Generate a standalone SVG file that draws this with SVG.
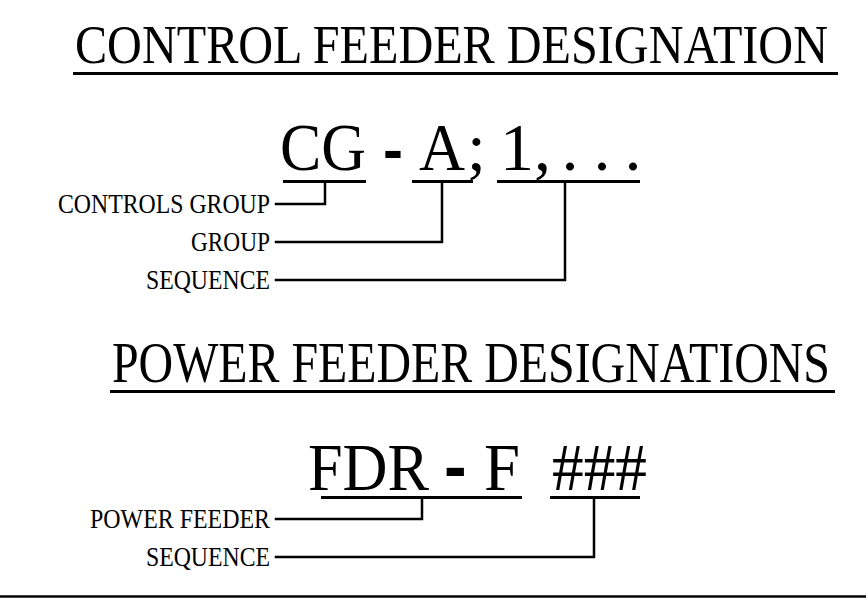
<svg xmlns="http://www.w3.org/2000/svg" width="866" height="598" viewBox="0 0 866 598">
<style>
.t{font-family:"Liberation Serif","Times New Roman",serif;fill:#000}
.title{font-size:54px}
.title2{font-size:56px}
.code{font-size:68px}
.lbl{font-size:27px;text-anchor:end}
.dash{font-family:"Liberation Sans",Arial,sans-serif;font-weight:bold;fill:#000}
.ul{stroke:#000;stroke-width:3;fill:none}
.ld{stroke:#000;stroke-width:2.5;fill:none;stroke-linecap:square}
</style>
<rect width="866" height="598" fill="#fff"/>
<g id="title-control">
<text class="t title" transform="scale(0.87,1)" x="86.2" y="63" textLength="865.5" lengthAdjust="spacingAndGlyphs">CONTROL FEEDER DESIGNATION</text>
<line class="ul" x1="73" y1="73.5" x2="838" y2="73.5"/>
</g>
<g id="code-control">
<text class="t code" x="280" y="170" textLength="86" lengthAdjust="spacingAndGlyphs">CG</text>
<text class="dash" x="383" y="170" font-size="60">-</text>
<text class="t code" x="419" y="170" textLength="46" lengthAdjust="spacingAndGlyphs">A</text>
<text class="t code" x="467" y="170">;</text>
<text class="t code" x="500" y="170">1,</text>
<text class="t code" x="561.5" y="170">.</text>
<text class="t code" x="593.5" y="170">.</text>
<text class="t code" x="624.5" y="170">.</text>
</g>
<g id="label-controls-group"><text class="t lbl" x="270" y="213" textLength="212" lengthAdjust="spacingAndGlyphs">CONTROLS GROUP</text></g>
<g id="label-group"><text class="t lbl" x="270" y="251" textLength="79" lengthAdjust="spacingAndGlyphs">GROUP</text></g>
<g id="label-sequence-1"><text class="t lbl" x="270" y="289" textLength="124" lengthAdjust="spacingAndGlyphs">SEQUENCE</text></g>
<g id="title-power">
<text class="t title2" transform="scale(0.83,1)" x="134.9" y="382" textLength="865" lengthAdjust="spacingAndGlyphs">POWER FEEDER DESIGNATIONS</text>
<line class="ul" x1="110" y1="391.5" x2="835" y2="391.5"/>
</g>
<g id="code-power">
<text class="t code" x="308" y="490" textLength="121" lengthAdjust="spacingAndGlyphs">FDR</text>
<text class="dash" x="444" y="490" font-size="68">-</text>
<text class="t code" x="484" y="490" textLength="36" lengthAdjust="spacingAndGlyphs">F</text>
<text class="t code" x="552" y="490" textLength="95" lengthAdjust="spacingAndGlyphs">###</text>
</g>
<g id="label-power-feeder"><text class="t lbl" x="270" y="528" textLength="180" lengthAdjust="spacingAndGlyphs">POWER FEEDER</text></g>
<g id="label-sequence-2"><text class="t lbl" x="270" y="566" textLength="124" lengthAdjust="spacingAndGlyphs">SEQUENCE</text></g>
<g id="connectors">
<line class="ul" x1="283" y1="181.5" x2="366" y2="181.5"/>
<line class="ul" x1="412" y1="181.5" x2="473" y2="181.5"/>
<line class="ul" x1="497" y1="181.5" x2="640" y2="181.5"/>
<polyline class="ld" points="276,204 325,204 325,182"/>
<polyline class="ld" points="276,242 442,242 442,182"/>
<polyline class="ld" points="276,280 565,280 565,182"/>
<line class="ul" x1="321" y1="497.5" x2="522" y2="497.5"/>
<line class="ul" x1="550" y1="497.5" x2="640" y2="497.5"/>
<polyline class="ld" points="276,519 422,519 422,498"/>
<polyline class="ld" points="276,557 594,557 594,498"/>
<line x1="0" y1="596.5" x2="866" y2="596.5" stroke="#000" stroke-width="2.5"/>
</g>
</svg>
